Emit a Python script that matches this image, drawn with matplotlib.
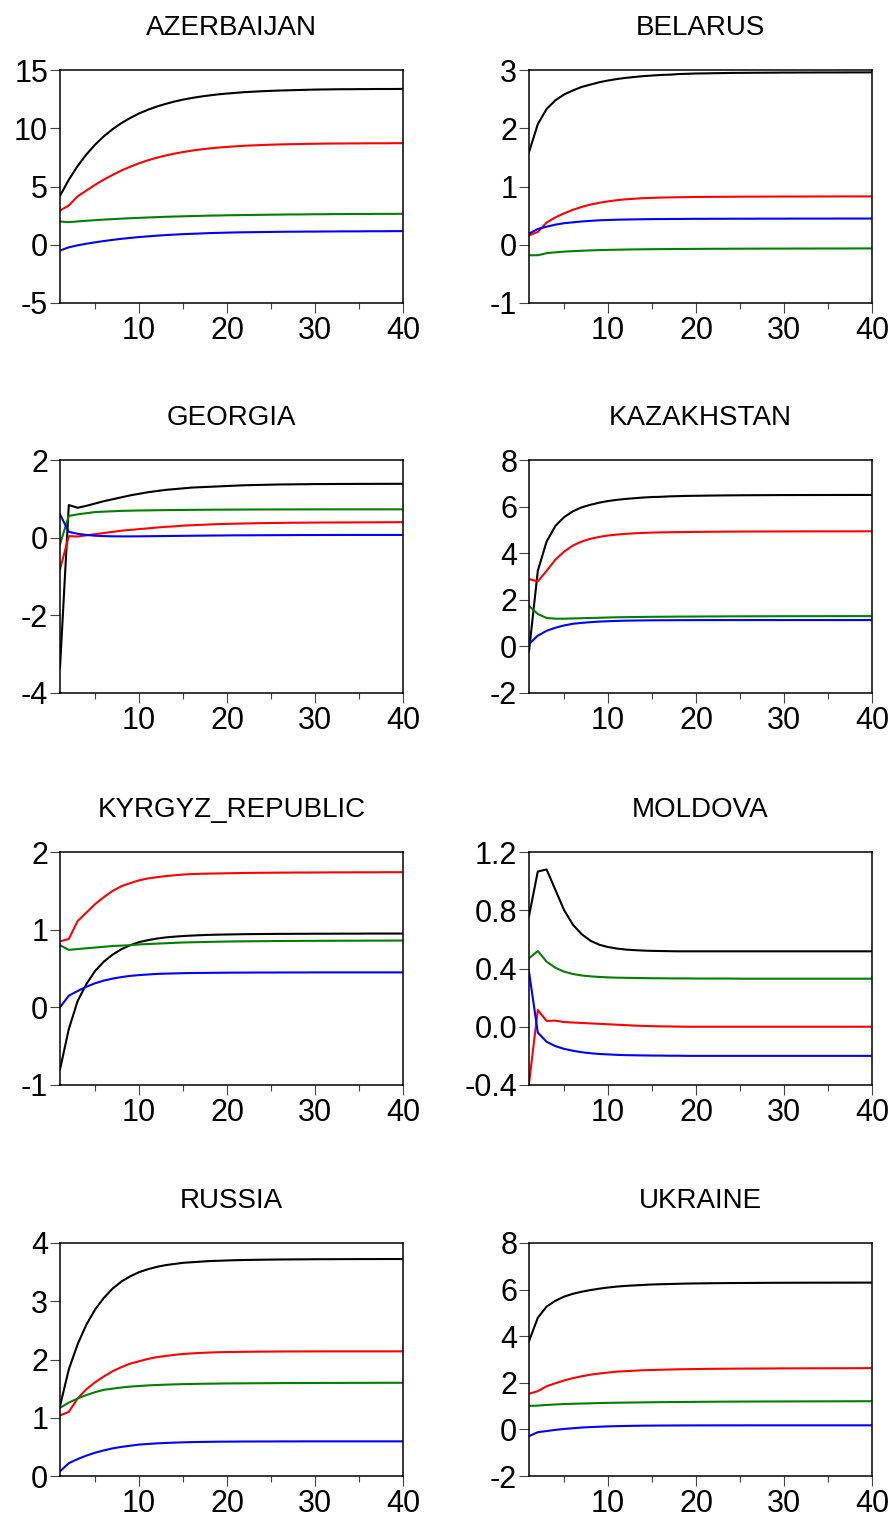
import numpy as np
import matplotlib
matplotlib.use("Agg")
import matplotlib.pyplot as plt
from matplotlib.ticker import FixedLocator, FormatStrFormatter

plt.rcParams['font.family'] = ['Liberation Sans', 'DejaVu Sans']
plt.rcParams['axes.unicode_minus'] = False

periods = np.arange(1, 41)

countries = ["AZERBAIJAN", "BELARUS", "GEORGIA", "KAZAKHSTAN",
             "KYRGYZ_REPUBLIC", "MOLDOVA", "RUSSIA", "UKRAINE"]

# ---------------- AZERBAIJAN ----------------
aze_black = [4.20, 5.58, 6.75, 7.75, 8.60, 9.32, 9.93, 10.45, 10.89, 11.27,
             11.59, 11.86, 12.09, 12.29, 12.46, 12.60, 12.72, 12.82, 12.91, 12.98,
             13.04, 13.10, 13.14, 13.18, 13.21, 13.24, 13.26, 13.28, 13.30, 13.32,
             13.33, 13.34, 13.35, 13.35, 13.36, 13.36, 13.37, 13.37, 13.37, 13.38]
aze_red = [2.94, 3.37, 4.15, 4.65, 5.15, 5.60, 6.00, 6.38, 6.70, 7.00,
           7.25, 7.47, 7.66, 7.82, 7.96, 8.08, 8.18, 8.27, 8.34, 8.40,
           8.45, 8.50, 8.53, 8.56, 8.59, 8.61, 8.63, 8.64, 8.66, 8.67,
           8.68, 8.69, 8.69, 8.70, 8.70, 8.71, 8.71, 8.71, 8.72, 8.72]
aze_green = [2.00, 1.94, 2.00, 2.06, 2.11, 2.16, 2.20, 2.24, 2.28, 2.31,
             2.34, 2.37, 2.40, 2.42, 2.44, 2.46, 2.48, 2.50, 2.51, 2.53,
             2.54, 2.55, 2.56, 2.57, 2.58, 2.59, 2.60, 2.60, 2.61, 2.62,
             2.62, 2.63, 2.63, 2.64, 2.64, 2.64, 2.65, 2.65, 2.65, 2.66]
aze_blue = [-0.50, -0.22, -0.05, 0.09, 0.21, 0.32, 0.42, 0.51, 0.59, 0.66,
            0.72, 0.78, 0.83, 0.87, 0.91, 0.94, 0.97, 1.00, 1.02, 1.04,
            1.06, 1.07, 1.08, 1.09, 1.10, 1.11, 1.12, 1.12, 1.13, 1.13,
            1.14, 1.14, 1.15, 1.15, 1.15, 1.16, 1.16, 1.16, 1.17, 1.17]

# ---------------- BELARUS ----------------
bel_black = [1.59, 2.07, 2.33, 2.48, 2.58, 2.65, 2.71, 2.75, 2.79, 2.82,
             2.845, 2.865, 2.88, 2.895, 2.905, 2.915, 2.92, 2.93, 2.935, 2.94,
             2.942, 2.945, 2.947, 2.95, 2.951, 2.952, 2.953, 2.954, 2.955, 2.956,
             2.956, 2.957, 2.957, 2.958, 2.958, 2.958, 2.959, 2.959, 2.959, 2.96]
bel_red = [0.16, 0.22, 0.38, 0.47, 0.54, 0.60, 0.65, 0.69, 0.72, 0.745,
           0.765, 0.78, 0.79, 0.80, 0.805, 0.81, 0.813, 0.816, 0.818, 0.82,
           0.821, 0.822, 0.823, 0.824, 0.825, 0.826, 0.826, 0.827, 0.827, 0.828,
           0.828, 0.828, 0.829, 0.829, 0.829, 0.83, 0.83, 0.83, 0.83, 0.83]
bel_green = [-0.18, -0.18, -0.145, -0.13, -0.118, -0.11, -0.103, -0.097, -0.092, -0.088,
             -0.085, -0.082, -0.080, -0.078, -0.076, -0.075, -0.074, -0.073, -0.072, -0.071,
             -0.070, -0.069, -0.069, -0.068, -0.068, -0.067, -0.067, -0.066, -0.066, -0.066,
             -0.065, -0.065, -0.065, -0.064, -0.064, -0.064, -0.064, -0.063, -0.063, -0.063]
bel_blue = [0.19, 0.27, 0.31, 0.345, 0.37, 0.385, 0.40, 0.41, 0.42, 0.425,
            0.43, 0.433, 0.436, 0.438, 0.44, 0.441, 0.442, 0.443, 0.444, 0.445,
            0.445, 0.446, 0.446, 0.447, 0.447, 0.447, 0.448, 0.448, 0.448, 0.448,
            0.449, 0.449, 0.449, 0.449, 0.449, 0.45, 0.45, 0.45, 0.45, 0.45]

# ---------------- GEORGIA ----------------
geo_black = [-3.35, 0.84, 0.77, 0.82, 0.88, 0.94, 0.99, 1.04, 1.09, 1.13,
             1.17, 1.20, 1.23, 1.25, 1.27, 1.29, 1.30, 1.31, 1.32, 1.33,
             1.34, 1.35, 1.355, 1.36, 1.365, 1.37, 1.372, 1.375, 1.377, 1.38,
             1.381, 1.382, 1.383, 1.384, 1.385, 1.385, 1.386, 1.386, 1.387, 1.387]
geo_red = [-0.82, 0.04, 0.03, 0.06, 0.09, 0.12, 0.15, 0.18, 0.20, 0.22,
           0.24, 0.26, 0.28, 0.29, 0.31, 0.32, 0.33, 0.34, 0.35, 0.355,
           0.36, 0.365, 0.37, 0.375, 0.378, 0.38, 0.383, 0.385, 0.387, 0.389,
           0.39, 0.391, 0.392, 0.393, 0.394, 0.395, 0.396, 0.397, 0.398, 0.40]
geo_green = [-0.17, 0.56, 0.60, 0.63, 0.66, 0.67, 0.68, 0.69, 0.695, 0.70,
             0.703, 0.706, 0.709, 0.712, 0.714, 0.716, 0.718, 0.72, 0.721, 0.722,
             0.723, 0.724, 0.725, 0.726, 0.726, 0.727, 0.727, 0.728, 0.728, 0.728,
             0.729, 0.729, 0.729, 0.729, 0.73, 0.73, 0.73, 0.73, 0.73, 0.73]
geo_blue = [0.60, 0.15, 0.10, 0.07, 0.05, 0.04, 0.035, 0.033, 0.033, 0.035,
            0.037, 0.04, 0.042, 0.045, 0.047, 0.05, 0.052, 0.054, 0.056, 0.058,
            0.06, 0.061, 0.062, 0.063, 0.064, 0.065, 0.066, 0.067, 0.068, 0.068,
            0.069, 0.069, 0.07, 0.07, 0.07, 0.07, 0.07, 0.07, 0.07, 0.07]

# ---------------- KAZAKHSTAN ----------------
kaz_black = [-0.21, 3.24, 4.50, 5.17, 5.55, 5.80, 5.97, 6.08, 6.17, 6.24,
             6.29, 6.33, 6.36, 6.39, 6.41, 6.42, 6.44, 6.45, 6.46, 6.465,
             6.47, 6.475, 6.48, 6.483, 6.486, 6.488, 6.49, 6.492, 6.494, 6.495,
             6.496, 6.497, 6.497, 6.498, 6.498, 6.499, 6.499, 6.50, 6.50, 6.50]
kaz_red = [2.89, 2.79, 3.24, 3.72, 4.07, 4.33, 4.50, 4.62, 4.70, 4.76,
           4.80, 4.83, 4.855, 4.87, 4.885, 4.895, 4.90, 4.905, 4.91, 4.915,
           4.918, 4.921, 4.924, 4.926, 4.928, 4.93, 4.931, 4.932, 4.933, 4.934,
           4.935, 4.936, 4.937, 4.937, 4.938, 4.938, 4.939, 4.939, 4.94, 4.94]
kaz_green = [1.74, 1.39, 1.22, 1.19, 1.19, 1.20, 1.21, 1.22, 1.23, 1.24,
             1.25, 1.255, 1.26, 1.265, 1.27, 1.272, 1.275, 1.278, 1.28, 1.282,
             1.284, 1.286, 1.288, 1.29, 1.291, 1.292, 1.293, 1.294, 1.295, 1.296,
             1.296, 1.297, 1.297, 1.298, 1.298, 1.299, 1.299, 1.30, 1.30, 1.30]
kaz_blue = [0.10, 0.46, 0.67, 0.80, 0.90, 0.97, 1.01, 1.04, 1.065, 1.08,
            1.095, 1.105, 1.11, 1.115, 1.12, 1.122, 1.124, 1.126, 1.127, 1.128,
            1.129, 1.13, 1.13, 1.13, 1.13, 1.13, 1.13, 1.13, 1.13, 1.13,
            1.13, 1.13, 1.13, 1.13, 1.13, 1.13, 1.13, 1.13, 1.13, 1.13]

# ---------------- KYRGYZ_REPUBLIC ----------------
kgz_black = [-0.80, -0.28, 0.08, 0.30, 0.47, 0.59, 0.68, 0.75, 0.80, 0.84,
             0.865, 0.885, 0.90, 0.91, 0.918, 0.924, 0.929, 0.933, 0.936, 0.938,
             0.94, 0.942, 0.943, 0.944, 0.945, 0.946, 0.946, 0.947, 0.947, 0.948,
             0.948, 0.948, 0.949, 0.949, 0.949, 0.95, 0.95, 0.95, 0.95, 0.95]
kgz_red = [0.85, 0.88, 1.11, 1.22, 1.33, 1.42, 1.50, 1.56, 1.60, 1.635,
           1.66, 1.675, 1.69, 1.70, 1.71, 1.715, 1.72, 1.722, 1.724, 1.726,
           1.728, 1.73, 1.731, 1.732, 1.733, 1.734, 1.735, 1.736, 1.736, 1.737,
           1.737, 1.738, 1.738, 1.738, 1.739, 1.739, 1.739, 1.74, 1.74, 1.74]
kgz_green = [0.80, 0.74, 0.75, 0.76, 0.77, 0.78, 0.79, 0.795, 0.80, 0.81,
             0.815, 0.82, 0.825, 0.83, 0.835, 0.838, 0.84, 0.843, 0.845, 0.847,
             0.849, 0.85, 0.851, 0.852, 0.853, 0.854, 0.855, 0.855, 0.856, 0.856,
             0.857, 0.857, 0.858, 0.858, 0.858, 0.859, 0.859, 0.859, 0.86, 0.86]
kgz_blue = [0.00, 0.15, 0.21, 0.265, 0.31, 0.345, 0.37, 0.39, 0.405, 0.415,
            0.423, 0.43, 0.434, 0.437, 0.44, 0.442, 0.443, 0.444, 0.445, 0.446,
            0.447, 0.447, 0.448, 0.448, 0.448, 0.449, 0.449, 0.449, 0.449, 0.45,
            0.45, 0.45, 0.45, 0.45, 0.45, 0.45, 0.45, 0.45, 0.45, 0.45]

# ---------------- MOLDOVA ----------------
mda_black = [0.76, 1.066, 1.08, 0.94, 0.80, 0.70, 0.635, 0.59, 0.563, 0.547,
             0.537, 0.53, 0.526, 0.523, 0.521, 0.52, 0.519, 0.518, 0.518, 0.518,
             0.518, 0.518, 0.518, 0.518, 0.518, 0.518, 0.518, 0.518, 0.518, 0.518,
             0.518, 0.518, 0.518, 0.518, 0.518, 0.518, 0.518, 0.518, 0.518, 0.518]
mda_red = [-0.39, 0.115, 0.04, 0.042, 0.032, 0.029, 0.026, 0.023, 0.02, 0.017,
           0.014, 0.011, 0.008, 0.006, 0.004, 0.003, 0.002, 0.001, 0.0, 0.0,
           0.0, 0.0, 0.0, 0.0, 0.0, 0.0, 0.0, 0.0, 0.0, 0.0,
           0.0, 0.0, 0.0, 0.0, 0.0, 0.0, 0.0, 0.0, 0.0, 0.0]
mda_green = [0.47, 0.52, 0.447, 0.405, 0.378, 0.362, 0.352, 0.346, 0.342, 0.339,
             0.337, 0.336, 0.335, 0.334, 0.333, 0.333, 0.332, 0.332, 0.332, 0.331,
             0.331, 0.331, 0.331, 0.331, 0.33, 0.33, 0.33, 0.33, 0.33, 0.33,
             0.33, 0.33, 0.33, 0.33, 0.33, 0.33, 0.33, 0.33, 0.33, 0.33]
mda_blue = [0.378, -0.04, -0.103, -0.133, -0.152, -0.165, -0.175, -0.182, -0.187, -0.19,
            -0.193, -0.195, -0.196, -0.197, -0.198, -0.198, -0.199, -0.199, -0.2, -0.2,
            -0.2, -0.2, -0.2, -0.2, -0.2, -0.2, -0.2, -0.2, -0.2, -0.2,
            -0.2, -0.2, -0.2, -0.2, -0.2, -0.2, -0.2, -0.2, -0.2, -0.2]

# ---------------- RUSSIA ----------------
rus_black = [1.20, 1.83, 2.26, 2.60, 2.86, 3.06, 3.22, 3.34, 3.43, 3.50,
             3.55, 3.59, 3.62, 3.64, 3.66, 3.67, 3.68, 3.69, 3.695, 3.70,
             3.705, 3.708, 3.711, 3.713, 3.715, 3.717, 3.718, 3.719, 3.72, 3.721,
             3.722, 3.722, 3.723, 3.723, 3.724, 3.724, 3.724, 3.725, 3.725, 3.725]
rus_red = [1.04, 1.10, 1.33, 1.49, 1.61, 1.71, 1.80, 1.87, 1.93, 1.97,
           2.01, 2.04, 2.06, 2.08, 2.095, 2.105, 2.113, 2.12, 2.125, 2.128,
           2.13, 2.132, 2.134, 2.135, 2.136, 2.137, 2.138, 2.138, 2.139, 2.139,
           2.14, 2.14, 2.14, 2.14, 2.14, 2.14, 2.14, 2.14, 2.14, 2.14]
rus_green = [1.17, 1.26, 1.33, 1.39, 1.44, 1.48, 1.50, 1.52, 1.535, 1.545,
             1.555, 1.562, 1.568, 1.573, 1.577, 1.58, 1.583, 1.585, 1.587, 1.589,
             1.59, 1.591, 1.592, 1.593, 1.594, 1.595, 1.596, 1.596, 1.597, 1.597,
             1.598, 1.598, 1.598, 1.599, 1.599, 1.599, 1.60, 1.60, 1.60, 1.60]
rus_blue = [0.08, 0.22, 0.29, 0.35, 0.40, 0.44, 0.475, 0.50, 0.52, 0.54,
            0.55, 0.56, 0.567, 0.573, 0.578, 0.582, 0.585, 0.587, 0.589, 0.59,
            0.591, 0.592, 0.592, 0.593, 0.593, 0.594, 0.594, 0.594, 0.595, 0.595,
            0.595, 0.595, 0.595, 0.595, 0.595, 0.595, 0.595, 0.595, 0.595, 0.595]

# ---------------- UKRAINE ----------------
ukr_black = [3.79, 4.79, 5.27, 5.52, 5.70, 5.82, 5.91, 5.98, 6.04, 6.09,
             6.13, 6.16, 6.18, 6.20, 6.22, 6.23, 6.24, 6.25, 6.26, 6.265,
             6.27, 6.275, 6.278, 6.281, 6.284, 6.286, 6.288, 6.29, 6.292, 6.293,
             6.294, 6.295, 6.296, 6.297, 6.297, 6.298, 6.298, 6.299, 6.299, 6.30]
ukr_red = [1.53, 1.64, 1.85, 1.98, 2.10, 2.20, 2.28, 2.35, 2.40, 2.44,
           2.48, 2.50, 2.52, 2.54, 2.55, 2.56, 2.57, 2.58, 2.585, 2.59,
           2.595, 2.60, 2.603, 2.606, 2.609, 2.611, 2.613, 2.615, 2.617, 2.619,
           2.62, 2.621, 2.622, 2.623, 2.624, 2.625, 2.626, 2.627, 2.628, 2.63]
ukr_green = [1.01, 1.02, 1.05, 1.07, 1.09, 1.10, 1.11, 1.12, 1.13, 1.14,
             1.145, 1.15, 1.155, 1.16, 1.165, 1.17, 1.173, 1.176, 1.179, 1.182,
             1.185, 1.188, 1.19, 1.192, 1.194, 1.196, 1.197, 1.198, 1.199, 1.20,
             1.201, 1.202, 1.203, 1.204, 1.205, 1.206, 1.207, 1.208, 1.209, 1.21]
ukr_blue = [-0.29, -0.12, -0.07, -0.02, 0.02, 0.05, 0.08, 0.10, 0.115, 0.13,
            0.14, 0.148, 0.155, 0.16, 0.163, 0.166, 0.168, 0.17, 0.171, 0.172,
            0.173, 0.173, 0.174, 0.174, 0.174, 0.175, 0.175, 0.175, 0.175, 0.175,
            0.175, 0.175, 0.175, 0.175, 0.175, 0.175, 0.175, 0.175, 0.175, 0.175]

series = {
    "AZERBAIJAN": (aze_black, aze_red, aze_green, aze_blue),
    "BELARUS": (bel_black, bel_red, bel_green, bel_blue),
    "GEORGIA": (geo_black, geo_red, geo_green, geo_blue),
    "KAZAKHSTAN": (kaz_black, kaz_red, kaz_green, kaz_blue),
    "KYRGYZ_REPUBLIC": (kgz_black, kgz_red, kgz_green, kgz_blue),
    "MOLDOVA": (mda_black, mda_red, mda_green, mda_blue),
    "RUSSIA": (rus_black, rus_red, rus_green, rus_blue),
    "UKRAINE": (ukr_black, ukr_red, ukr_green, ukr_blue),
}

y_ticks = {
    "AZERBAIJAN": [-5, 0, 5, 10, 15],
    "BELARUS": [-1, 0, 1, 2, 3],
    "GEORGIA": [-4, -2, 0, 2],
    "KAZAKHSTAN": [-2, 0, 2, 4, 6, 8],
    "KYRGYZ_REPUBLIC": [-1, 0, 1, 2],
    "MOLDOVA": [-0.4, 0.0, 0.4, 0.8, 1.2],
    "RUSSIA": [0, 1, 2, 3, 4],
    "UKRAINE": [-2, 0, 2, 4, 6, 8],
}

x_major = [10, 20, 30, 40]
x_minor = [5, 15, 25, 35]

line_colors = ["#000000", "#FF0000", "#008000", "#0000FF"]

W, H = 890, 1519
fig = plt.figure(figsize=(W / 100, H / 100), dpi=100)

col_left = [60, 529]
row_top = [70, 460, 852, 1243]
ax_w, ax_h = 343, 233

for i, name in enumerate(countries):
    r, c = divmod(i, 2)
    left = col_left[c] / W
    bottom = 1 - (row_top[r] + ax_h) / H
    ax = fig.add_axes([left, bottom, ax_w / W, ax_h / H])
    for vals, col in zip(series[name], line_colors):
        ax.plot(periods, vals, color=col, lw=1.5, solid_joinstyle='round')
    yt = y_ticks[name]
    ax.set_ylim(yt[0], yt[-1])
    ax.set_xlim(1, 40)
    ax.yaxis.set_major_locator(FixedLocator(yt))
    if name == "MOLDOVA":
        ax.yaxis.set_major_formatter(FormatStrFormatter('%.1f'))
    else:
        ax.yaxis.set_major_formatter(FormatStrFormatter('%d'))
    ax.xaxis.set_major_locator(FixedLocator(x_major))
    ax.xaxis.set_minor_locator(FixedLocator(x_minor))
    ax.tick_params(axis='y', which='major', direction='out', length=7.5, width=0.8,
                   color='#444444', labelsize=22, pad=1.0, right=False)
    ax.tick_params(axis='x', which='major', direction='out', length=7, width=0.8,
                   color='#444444', labelsize=22, pad=2.5, top=False)
    ax.tick_params(axis='x', which='minor', direction='out', length=4, width=0.8,
                   color='#444444', top=False)
    for sp in ax.spines.values():
        sp.set_linewidth(1.1)
        sp.set_color('black')
    ax.set_title(name, fontsize=20, pad=25)

fig.savefig("out.png", dpi=100)
